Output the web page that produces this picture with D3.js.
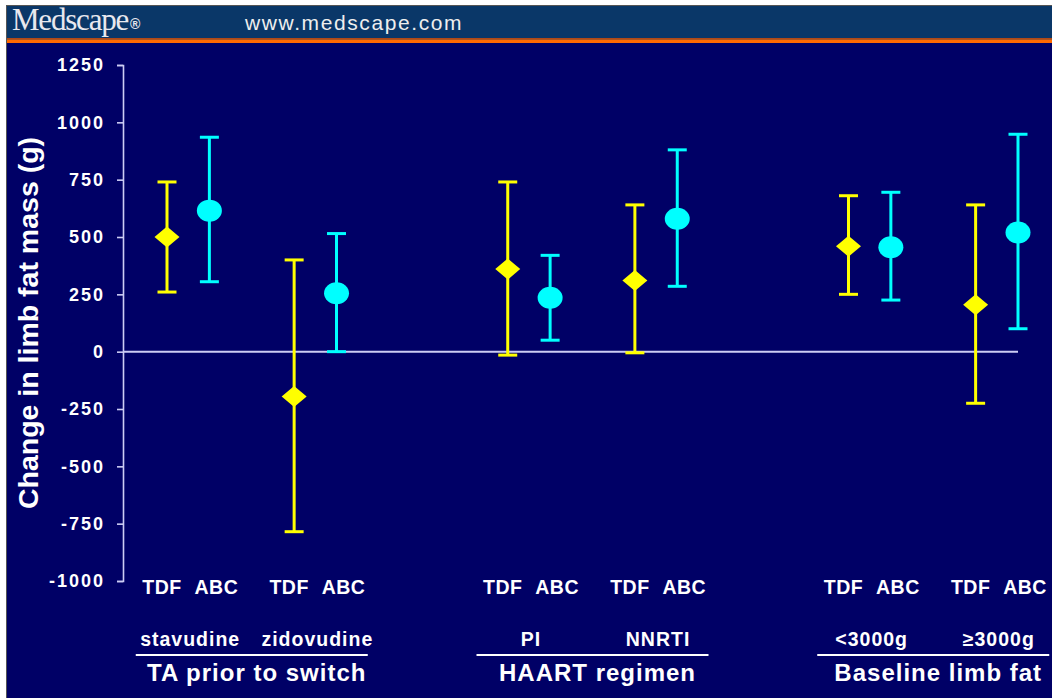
<!DOCTYPE html>
<html>
<head>
<meta charset="utf-8">
<script src="https://cdn.jsdelivr.net/npm/d3@7"></script>
<style>
  html, body { margin: 0; padding: 0; background: #ffffff; }
  svg { display: block; }
</style>
</head>
<body>
<svg id="chart" width="1052" height="698"></svg>
<script>
// ---------------- data ----------------
const groups = ["TA prior to switch", "HAART regimen", "Baseline limb fat"];
const subgroups = ["stavudine", "zidovudine", "PI", "NNRTI", "<3000g", "\u22653000g"];
const subgroupGroup = [0, 0, 1, 1, 2, 2];
const drugs = ["TDF", "ABC"];
const tdfMean = [500, -195, 360, 310, 460, 205];
const tdfLow  = [260, -785, -15, -5, 250, -225];
const tdfHigh = [740, 400, 740, 640, 680, 640];
const abcMean = [615, 255, 235, 580, 455, 520];
const abcLow  = [305, 0, 50, 285, 225, 100];
const abcHigh = [935, 515, 420, 880, 695, 948];
const yTicks = [-1000, -750, -500, -250, 0, 250, 500, 750, 1000, 1250];
const yTitle = "Change in limb fat mass (g)";

// ---------------- layout ----------------
const W = 1052, H = 698;
const svg = d3.select("#chart");
const NAVY = "#000066", YELLOW = "#ffff00", CYAN = "#00ffff", LINE = "#ccccf4";

// frame / header
svg.append("rect").attr("x", 0).attr("y", 0).attr("width", W).attr("height", H).attr("fill", "#ffffff");
svg.append("rect").attr("x", 6).attr("y", 5).attr("width", W - 6).attr("height", H - 5).attr("fill", "#555555");
svg.append("rect").attr("x", 7).attr("y", 6).attr("width", W - 7).attr("height", 34).attr("fill", "#0a3768");
svg.append("rect").attr("x", 7).attr("y", 38).attr("width", W - 7).attr("height", 1.5).attr("fill", "#b04818");
svg.append("rect").attr("x", 7).attr("y", 39.5).attr("width", W - 7).attr("height", 3.5).attr("fill", "#ff6a00");
svg.append("rect").attr("x", 7).attr("y", 43).attr("width", W - 7).attr("height", H - 43).attr("fill", NAVY);

const logo = svg.append("text").attr("x", 12).attr("y", 30)
  .attr("fill", "#e8e8ee").attr("font-family", "'Liberation Serif', 'Times New Roman', serif")
  .attr("font-size", 31).attr("letter-spacing", -1.2);
logo.append("tspan").text("Medscape");
logo.append("tspan").attr("font-size", 14).attr("dy", -1).attr("dx", 2)
  .attr("letter-spacing", 0)
  .attr("font-family", "'Liberation Sans', Arial, sans-serif").attr("font-weight", "bold").text("\u00ae");
svg.append("text").attr("x", 245).attr("y", 30).text("www.medscape.com")
  .attr("fill", "#eeeeee").attr("font-family", "'Liberation Sans', Arial, sans-serif")
  .attr("font-size", 21).attr("letter-spacing", 1.6);

// scales
const y = d3.scaleLinear().domain([-1000, 1250]).range([581, 65]);
const x = d3.scaleLinear().domain([0, 20.08]).range([167, 1018]);
const slot = (i, d) => i * 3 + subgroupGroup[i] * 2.04 + d;

// y axis
const axisX = 123;
const yAxis = d3.axisLeft(y).tickValues(yTicks).tickSize(6).tickPadding(14).tickFormat(d => String(d));
const ag = svg.append("g").attr("transform", `translate(${axisX},0)`).call(yAxis);
ag.select(".domain").attr("stroke", LINE).attr("stroke-width", 1.6);
ag.selectAll(".tick line").attr("stroke", LINE).attr("stroke-width", 1.6);
ag.selectAll(".tick text").attr("fill", "#ffffff")
  .attr("font-family", "'Liberation Sans', Arial, sans-serif").attr("font-weight", "bold")
  .attr("font-size", 18).attr("letter-spacing", 2).attr("dx", 2);

// y title
svg.append("text").attr("transform", `translate(38,323) rotate(-90)`)
  .attr("text-anchor", "middle").attr("fill", "#ffffff")
  .attr("font-family", "'Liberation Sans', Arial, sans-serif").attr("font-weight", "bold")
  .attr("font-size", 28.5).text(yTitle);

// zero line
svg.append("line").attr("x1", axisX).attr("x2", x(slot(5, 1)))
  .attr("y1", y(0)).attr("y2", y(0)).attr("stroke", LINE).attr("stroke-width", 2);

// points
const pts = [];
subgroups.forEach((s, i) => {
  pts.push({ i, d: 0, mean: tdfMean[i], lo: tdfLow[i], hi: tdfHigh[i] });
  pts.push({ i, d: 1, mean: abcMean[i], lo: abcLow[i], hi: abcHigh[i] });
});

const pg = svg.append("g");
const capW = 19;
pts.forEach(p => {
  const cx = x(slot(p.i, p.d));
  const col = p.d === 0 ? YELLOW : CYAN;
  const g = pg.append("g");
  g.append("line").attr("x1", cx).attr("x2", cx).attr("y1", y(p.lo)).attr("y2", y(p.hi))
    .attr("stroke", col).attr("stroke-width", 3);
  [p.lo, p.hi].forEach(v => {
    g.append("line").attr("x1", cx - capW / 2).attr("x2", cx + capW / 2)
      .attr("y1", y(v)).attr("y2", y(v)).attr("stroke", col).attr("stroke-width", 3);
  });
  if (p.d === 0) {
    g.append("path").attr("d", "M0,-10.5L12.5,0L0,10.5L-12.5,0Z")
      .attr("transform", `translate(${cx},${y(p.mean)})`).attr("fill", col);
  } else {
    g.append("ellipse").attr("cx", cx).attr("cy", y(p.mean)).attr("rx", 12.5).attr("ry", 11)
      .attr("fill", col);
  }
});

// category labels
const lblFont = "'Liberation Sans', Arial, sans-serif";
pts.forEach(p => {
  const cx = x(slot(p.i, p.d)) + (p.d === 0 ? -5 : 7);
  svg.append("text").attr("x", cx).attr("y", 594).attr("text-anchor", "middle")
    .attr("fill", "#ffffff").attr("font-family", lblFont).attr("font-weight", "bold")
    .attr("font-size", 19.5).attr("letter-spacing", 0.5).text(drugs[p.d]);
});
subgroups.forEach((s, i) => {
  const cx = (x(slot(i, 0)) + x(slot(i, 1))) / 2 + 2;
  svg.append("text").attr("x", cx).attr("y", 646).attr("text-anchor", "middle")
    .attr("fill", "#ffffff").attr("font-family", lblFont).attr("font-weight", "bold")
    .attr("font-size", 19.5).attr("letter-spacing", 1).text(s);
});
groups.forEach((gname, gi) => {
  const idx = subgroups.map((s, i) => i).filter(i => subgroupGroup[i] === gi);
  const left = x(slot(idx[0], 0)), right = x(slot(idx[idx.length - 1], 1));
  const c = (left + right) / 2;
  svg.append("line").attr("x1", c - 116).attr("x2", c + 116).attr("y1", 655).attr("y2", 655)
    .attr("stroke", "#ffffff").attr("stroke-width", 2);
  svg.append("text").attr("x", c + 5).attr("y", 681).attr("text-anchor", "middle")
    .attr("fill", "#ffffff").attr("font-family", lblFont).attr("font-weight", "bold")
    .attr("font-size", 24).attr("letter-spacing", 1).text(gname);
});
</script>
</body>
</html>
